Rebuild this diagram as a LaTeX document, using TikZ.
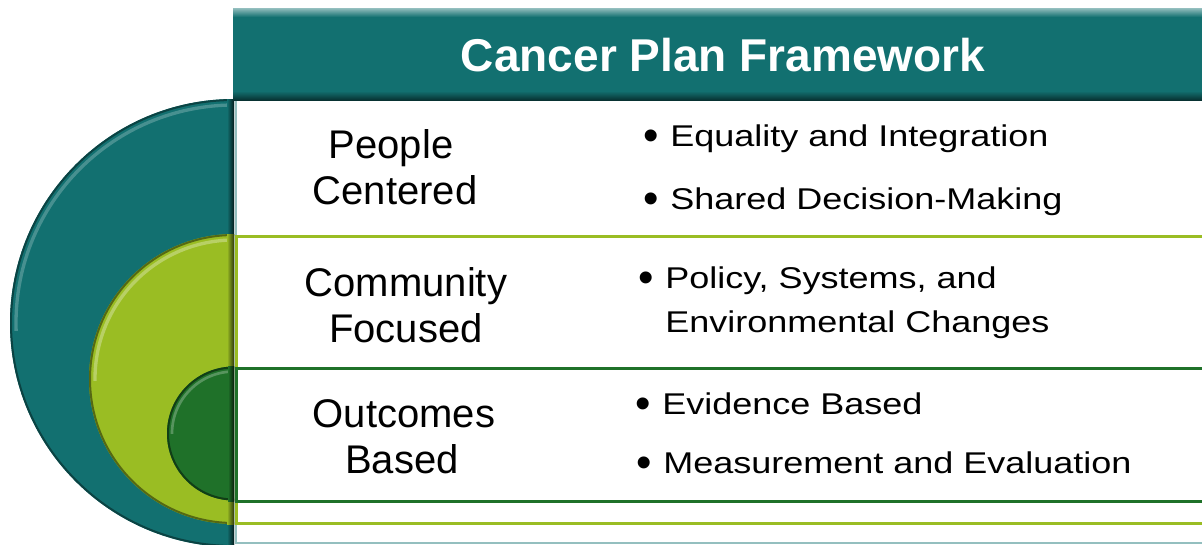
\documentclass[tikz,border=0pt]{standalone}
\usepackage{fontspec}
\setmainfont{Liberation Sans}
\definecolor{cteal}{RGB}{18,112,112}
\definecolor{clime}{RGB}{154,189,35}
\definecolor{cgreen}{RGB}{31,113,41}
\tikzset{
  lbl/.style={anchor=base, inner sep=0pt, font=\fontsize{30}{36}\selectfont, text=black},
  bul/.style={anchor=base west, inner sep=0pt, font=\fontsize{22.5}{27}\selectfont, text=black},
  rowbox/.style={fill=white, line width=2.25pt},
}
\newcommand{\bl}[1]{\llap{\raisebox{-3.6pt}{\fontsize{33}{33}\selectfont\textbullet}\hspace{8.2pt}}\scalebox{1.2}[1]{#1}}
\newcommand{\nb}[1]{\scalebox{1.2}[1]{#1}}
\begin{document}
\begin{tikzpicture}[x=0.75pt, y=-0.75pt]
\useasboundingbox (0,0) rectangle (1202,544);
\clip (0,0) rectangle (1202,544);
\fill[white] (0,0) rectangle (1202,544);

% row boxes
\draw[rowbox, draw=cteal!45!white, line width=1.5pt] (236,100) rectangle (1215,543);
\draw[rowbox, draw=clime] (236,236) rectangle (1215,523);
\draw[rowbox, draw=cgreen] (236,368) rectangle (1215,501);

% teal half disc
\begin{scope}
  \clip (0,0) rectangle (234,544);
  \fill[cteal] (234,323) circle[radius=224];
  \begin{scope}
    \clip (0,0) rectangle (234,330);
    \draw[cteal!50!white, line width=2.5pt, opacity=.45] (234,323) circle[radius=218];
  \end{scope}
  \draw[cteal!60!black, line width=1.5pt] (234,323) circle[radius=223];
  \fill[left color=cteal, right color=cteal!25!black] (227,99) rectangle (234,547);
\end{scope}

% lime half disc
\begin{scope}
  \clip (0,0) rectangle (234,544);
  \fill[clime] (234,379) circle[radius=145];
  \begin{scope}
    \clip (0,0) rectangle (234,380);
    \draw[clime!45!white, line width=2.5pt, opacity=.55] (234,379) circle[radius=139];
  \end{scope}
  \draw[clime!55!black, line width=1.5pt] (234,379) circle[radius=144];
  \fill[left color=clime, right color=clime!30!black] (227,234) rectangle (234,524);
\end{scope}

% dark green half disc
\begin{scope}
  \clip (0,0) rectangle (234,544);
  \fill[cgreen] (234,433.5) circle[radius=67];
  \begin{scope}
    \clip (0,0) rectangle (234,433);
    \draw[cgreen!50!white, line width=2pt, opacity=.5] (234,433.5) circle[radius=62];
  \end{scope}
  \draw[cgreen!55!black, line width=1.5pt] (234,433.5) circle[radius=66];
  \fill[left color=cgreen, right color=cgreen!25!black] (228,366) rectangle (234,501);
\end{scope}

% header
\fill[cteal] (233,8) rectangle (1210,100);
\fill[top color=cteal!45!white, bottom color=cteal] (233,8) rectangle (1210,17);
\fill[top color=cteal, bottom color=cteal!45!black] (233,91) rectangle (1210,100);
\node[anchor=base, inner sep=0pt, text=white, font=\bfseries\fontsize{34.5}{40}\selectfont] (title) at (723,71) {Cancer Plan Framework};

% left labels
\node[lbl] (pc1) at (391,158) {People};
\node[lbl] (pc2) at (395,204) {Centered};
\node[lbl] (cf1) at (406,296) {Community};
\node[lbl] (cf2) at (406,342) {Focused};
\node[lbl] (ob1) at (404,427) {Outcomes};
\node[lbl] (ob2) at (402,473) {Based};

% bullets
\node[bul] (b1) at (670,146) {\bl{Equality and Integration}};
\node[bul] (b2) at (670,209) {\bl{Shared Decision-Making}};
\node[bul] (b3) at (665,288) {\bl{Policy, Systems, and}};
\node[bul] (b4) at (665,332) {\nb{Environmental Changes}};
\node[bul] (b5) at (662,414) {\bl{Evidence Based}};
\node[bul] (b6) at (663,473) {\bl{Measurement and Evaluation}};
\end{tikzpicture}
\end{document}
